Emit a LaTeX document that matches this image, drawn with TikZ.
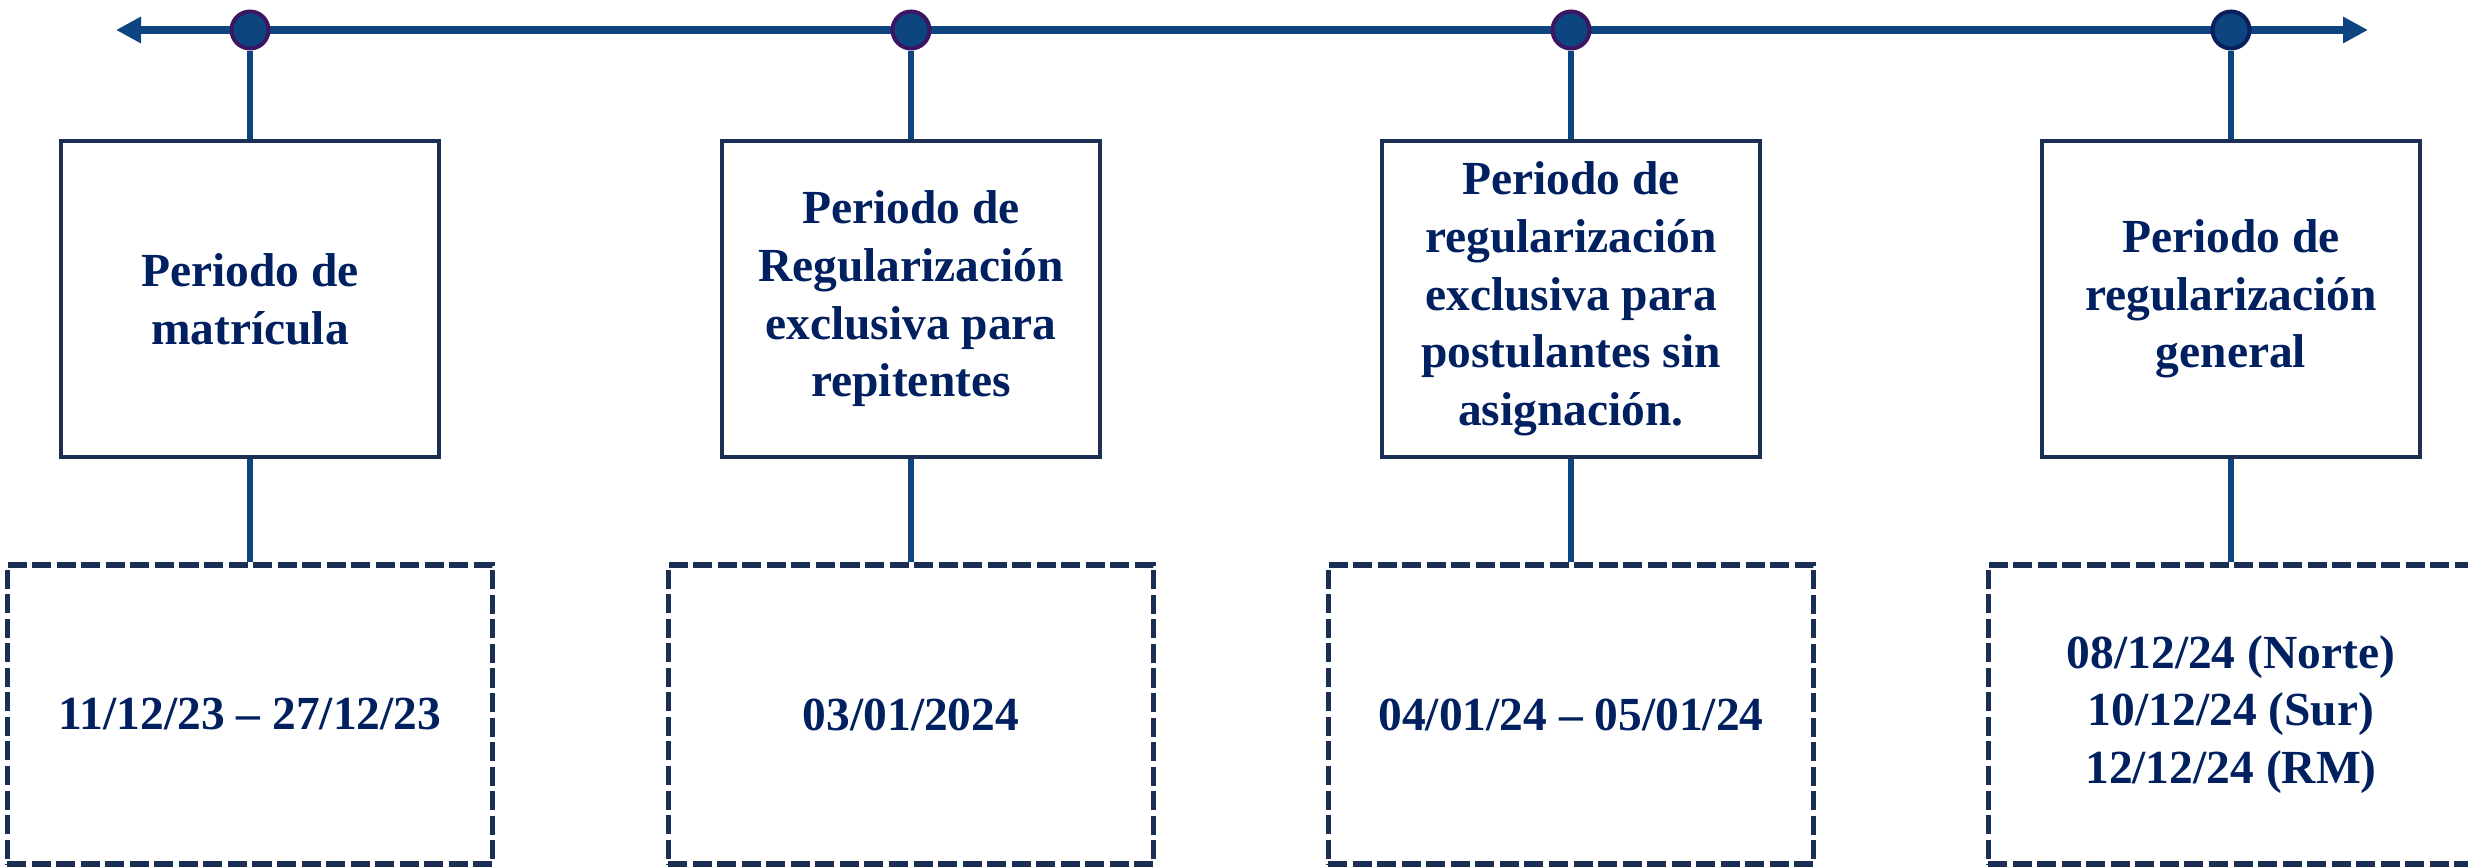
\documentclass[tikz,border=0pt]{standalone}
\usepackage{fontspec}
\setmainfont{Liberation Serif}
\usetikzlibrary{arrows.meta}
\definecolor{linec}{HTML}{0D4580}
\definecolor{dotpurple}{HTML}{3C1663}
\definecolor{dotnavy}{HTML}{0A1F5E}
\definecolor{boxc}{HTML}{1B2F55}
\definecolor{textc}{HTML}{002060}
\tikzset{
  axis/.style={draw=linec, line width=0.075cm, {Triangle[length=0.25cm,width=0.25cm]}-{Triangle[length=0.25cm,width=0.25cm]}},
  dot/.style={circle, fill=linec, draw=#1, line width=0.04cm, minimum size=0.37cm, inner sep=0pt},
  conn/.style={draw=linec, line width=0.055cm},
  txt/.style={text=textc, font=\bfseries\fontsize{13.5}{16.4}\selectfont, align=center},
  mainbox/.style={txt, draw=boxc, fill=white, line width=0.045cm, minimum width=3.78cm, minimum height=3.16cm, inner sep=0pt},
  datebox/.style={txt, draw=boxc, line width=0.055cm, dash pattern=on 0.19cm off 0.055cm, minimum width=4.85cm, minimum height=2.99cm, inner sep=0pt}
}
\begin{document}
\begin{tikzpicture}[x=0.01cm,y=-0.01cm]
\useasboundingbox (0,0) rectangle (2468,867);
\coordinate (L) at (116,30);
\coordinate (R) at (2368,30);
\draw[axis] (L) -- (R);

\node[dot=dotpurple] (c1) at (250,30) {};
\node[dot=dotpurple] (c2) at (911,30) {};
\node[dot=dotpurple] (c3) at (1571,30) {};
\node[dot=dotnavy]   (c4) at (2231,30) {};

\node[mainbox] (b1) at (250,299) {Periodo de\\matrícula};
\node[mainbox] (b2) at (911,299) {Periodo de\\Regularización\\exclusiva para\\repitentes};
\node[mainbox] (b3) at (1571,299) {Periodo de\\regularización\\exclusiva para\\postulantes sin\\asignación.};
\node[mainbox] (b4) at (2231,299) {Periodo de\\regularización\\general};

\node[datebox] (d1) at (250,714.5) {11/12/23 – 27/12/23};
\node[datebox] (d2) at (911,714.5) {03/01/2024};
\node[datebox] (d3) at (1571,714.5) {04/01/24 – 05/01/24};
\node[datebox] (d4) at (2231,714.5) {08/12/24 (Norte)\\10/12/24 (Sur)\\12/12/24 (RM)};

\foreach \i in {1,2,3,4}{
  \draw[conn] (c\i) -- (b\i);
  \draw[conn] (b\i) -- (d\i);
}
\end{tikzpicture}
\end{document}
